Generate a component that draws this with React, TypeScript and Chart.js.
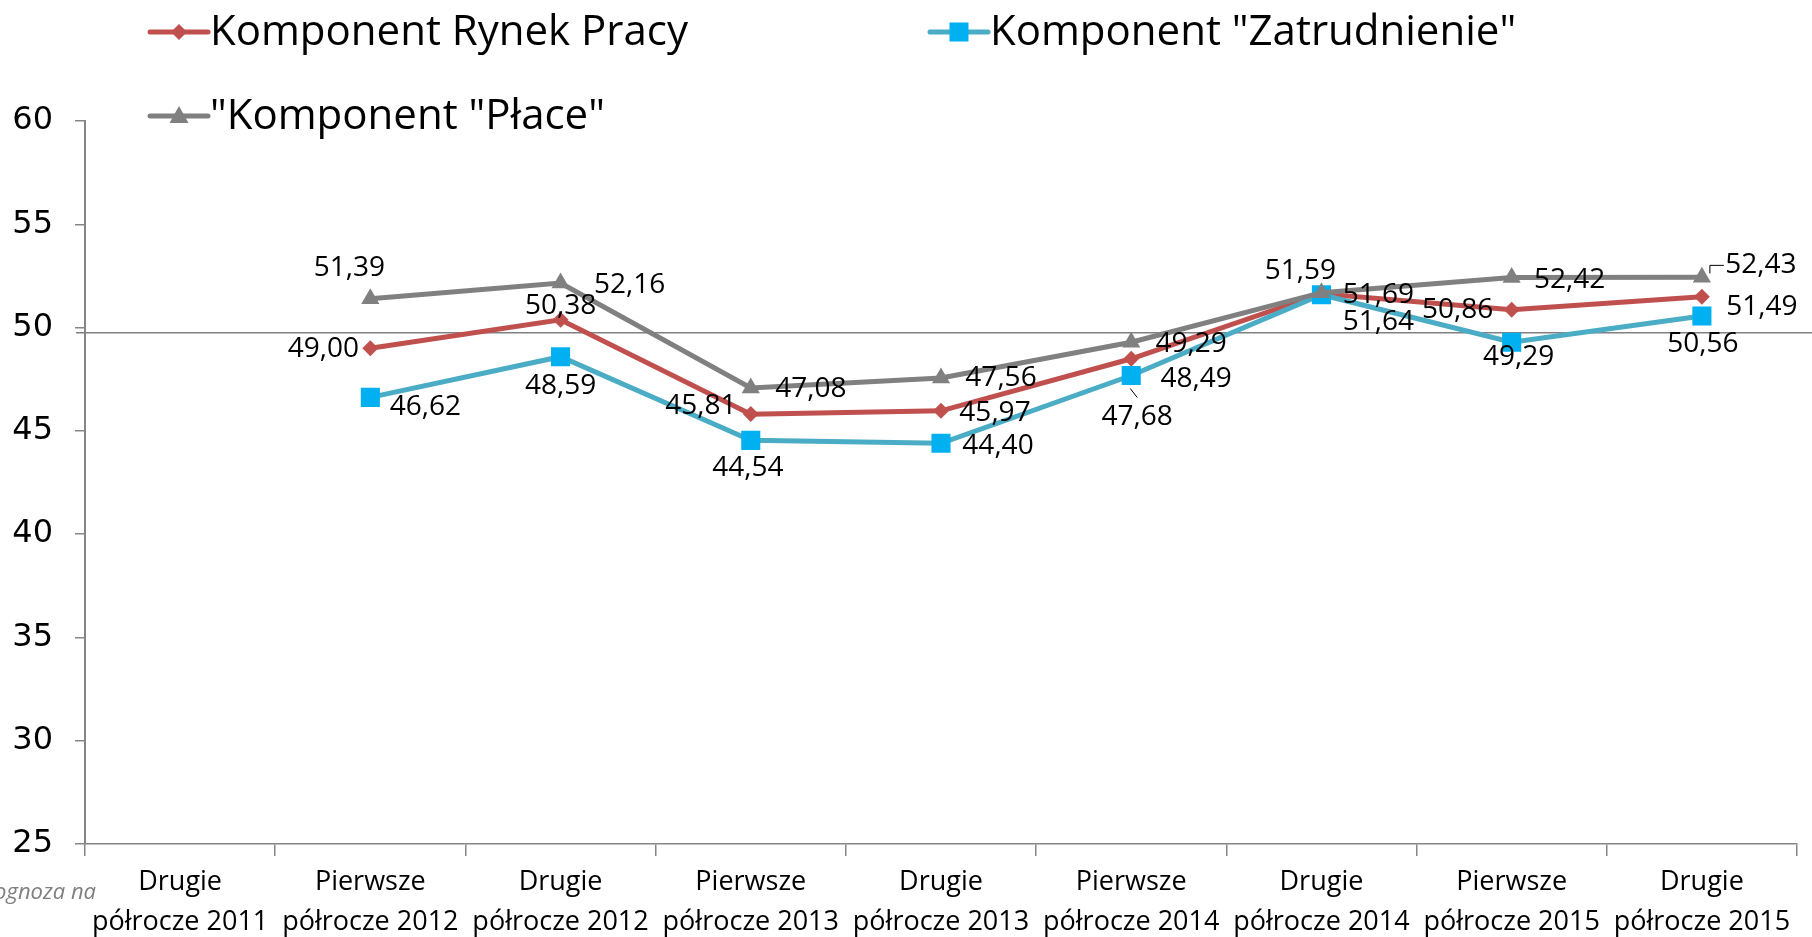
import React, { useEffect, useRef } from "react";
import { Chart, registerables } from "chart.js";

Chart.register(...registerables);

const CATEGORIES: string[][] = [
  ["Drugie", "półrocze 2011"],
  ["Pierwsze", "półrocze 2012"],
  ["Drugie", "półrocze 2012"],
  ["Pierwsze", "półrocze 2013"],
  ["Drugie", "półrocze 2013"],
  ["Pierwsze", "półrocze 2014"],
  ["Drugie", "półrocze 2014"],
  ["Pierwsze", "półrocze 2015"],
  ["Drugie", "półrocze 2015"],
];

const RYNEK_PRACY: (number | null)[] = [null, 49.0, 50.38, 45.81, 45.97, 48.49, 51.64, 50.86, 51.49];
const ZATRUDNIENIE: (number | null)[] = [null, 46.62, 48.59, 44.54, 44.4, 47.68, 51.59, 49.29, 50.56];
const PLACE: (number | null)[] = [null, 51.39, 52.16, 47.08, 47.56, 49.29, 51.69, 52.42, 52.43];

const SERIES_NAMES = ["Komponent Rynek Pracy", 'Komponent "Zatrudnienie"', '"Komponent "Płace"'];
const Y_MIN = 25;
const Y_MAX = 60;
const Y_STEP = 5;
const REFERENCE_LINE = 49.75;
const FOOTNOTE = "Prognoza na";

// label offsets (style only): [dx, dy] in px relative to the point
const LABEL_OFFSETS: number[][][] = [
  // red
  [[0, 0], [-47, 1], [0, -14], [-50, -8], [54, 2], [65, 20], [57, 28], [-54, 0], [60, 10]],
  // blue
  [[0, 0], [55, 10], [0, 29], [-3, 28], [57, 3], [6, 42], [-21, -24], [7, 15], [1, 28]],
  // gray
  [[0, 0], [-21, -31], [69, 2], [60, 1], [60, 0], [60, 2], [57, 2], [58, 2], [59, -12]],
];

const RED = "#C0504D";
const BLUE_LINE = "#4BACC6";
const BLUE_MARK = "#00B0F0";
const GRAY = "#808080";
const AXIS = "#868686";

const fmt = (v: number) => v.toFixed(2).replace(".", ",");

function drawMarker(ctx: CanvasRenderingContext2D, kind: string, x: number, y: number, color: string) {
  ctx.save();
  ctx.fillStyle = color;
  ctx.beginPath();
  if (kind === "diamond") {
    const r = 8;
    ctx.moveTo(x, y - r);
    ctx.lineTo(x + r, y);
    ctx.lineTo(x, y + r);
    ctx.lineTo(x - r, y);
  } else if (kind === "square") {
    const s = 9.5;
    ctx.rect(x - s, y - s, 2 * s, 2 * s);
  } else {
    const r = 10;
    ctx.moveTo(x, y - r);
    ctx.lineTo(x + r * 0.95, y + r * 0.7);
    ctx.lineTo(x - r * 0.95, y + r * 0.7);
  }
  ctx.closePath();
  ctx.fill();
  ctx.restore();
}

const overlayPlugin = {
  id: "overlay",
  beforeDatasetsDraw(chart: any) {
    const ctx: CanvasRenderingContext2D = chart.ctx;
    const y = chart.scales.y.getPixelForValue(REFERENCE_LINE);
    ctx.save();
    ctx.strokeStyle = GRAY;
    ctx.lineWidth = 1.5;
    ctx.beginPath();
    ctx.moveTo(chart.chartArea.left - 9, y);
    ctx.lineTo(chart.width, y);
    ctx.stroke();
    ctx.restore();
  },
  afterDatasetsDraw(chart: any) {
    const ctx: CanvasRenderingContext2D = chart.ctx;
    ctx.save();
    // data labels
    ctx.font = '28px "Open Sans"';
    ctx.fillStyle = "#000";
    ctx.textAlign = "center";
    ctx.textBaseline = "middle";
    chart.data.datasets.forEach((ds: any, di: number) => {
      const meta = chart.getDatasetMeta(di);
      meta.data.forEach((pt: any, i: number) => {
        const v = ds.data[i];
        if (v === null || v === undefined) return;
        const [dx, dy] = LABEL_OFFSETS[di][i];
        ctx.fillText(fmt(v), pt.x + dx, pt.y + dy);
      });
    });
    // leader lines
    ctx.strokeStyle = "#000";
    ctx.lineWidth = 1;
    const gMeta = chart.getDatasetMeta(2);
    const gp = gMeta.data[8];
    if (gp) {
      ctx.beginPath();
      ctx.moveTo(gp.x + 22, gp.y - 12);
      ctx.lineTo(gp.x + 8, gp.y - 12);
      ctx.lineTo(gp.x + 8, gp.y - 4);
      ctx.stroke();
    }
    const bMeta = chart.getDatasetMeta(1);
    const bp = bMeta.data[5];
    if (bp) {
      ctx.beginPath();
      ctx.moveTo(bp.x + 6, bp.y + 22);
      ctx.lineTo(bp.x - 1, bp.y + 13);
      ctx.stroke();
    }
    // legend
    const items = [
      { text: SERIES_NAMES[0], color: RED, kind: "diamond", x: 150, y: 32 },
      { text: SERIES_NAMES[1], color: BLUE_LINE, mark: BLUE_MARK, kind: "square", x: 930, y: 32 },
      { text: SERIES_NAMES[2], color: GRAY, kind: "triangle", x: 150, y: 116 },
    ];
    ctx.font = '42px "Open Sans"';
    ctx.textAlign = "left";
    ctx.textBaseline = "middle";
    items.forEach((it: any) => {
      ctx.strokeStyle = it.color;
      ctx.lineWidth = 5;
      ctx.lineCap = "round";
      ctx.beginPath();
      ctx.moveTo(it.x, it.y);
      ctx.lineTo(it.x + 58, it.y);
      ctx.stroke();
      drawMarker(ctx, it.kind, it.x + 29, it.y, it.mark || it.color);
      ctx.fillStyle = "#000";
      ctx.fillText(it.text, it.x + 60, it.y + 1);
    });
    // footnote
    ctx.font = 'italic 22px "Open Sans"';
    ctx.fillStyle = "#7F7F7F";
    ctx.textAlign = "right";
    ctx.fillText(FOOTNOTE, 96, 893);
    ctx.restore();
  },
};

export default function App() {
  const ref = useRef<HTMLCanvasElement | null>(null);
  useEffect(() => {
    if (!ref.current) return;
    const chart = new Chart(ref.current, {
      type: "line",
      data: {
        labels: CATEGORIES,
        datasets: [
          {
            label: SERIES_NAMES[0],
            data: RYNEK_PRACY,
            borderColor: RED,
            backgroundColor: RED,
            borderWidth: 5,
            pointStyle: "rectRot",
            pointRadius: 8,
            pointBorderWidth: 0,
            pointBackgroundColor: RED,
            tension: 0,
            order: 3,
          },
          {
            label: SERIES_NAMES[1],
            data: ZATRUDNIENIE,
            borderColor: BLUE_LINE,
            backgroundColor: BLUE_MARK,
            borderWidth: 5,
            pointStyle: "rect",
            pointRadius: 13.5,
            pointBorderWidth: 0,
            pointBackgroundColor: BLUE_MARK,
            tension: 0,
            order: 2,
          },
          {
            label: SERIES_NAMES[2],
            data: PLACE,
            borderColor: GRAY,
            backgroundColor: GRAY,
            borderWidth: 5,
            pointStyle: "triangle",
            pointRadius: 10.5,
            pointBorderWidth: 0,
            pointBackgroundColor: GRAY,
            tension: 0,
            order: 1,
          },
        ],
      },
      options: {
        responsive: true,
        maintainAspectRatio: false,
        animation: false,
        layout: { padding: { top: 121, right: 15, left: 0, bottom: 0 } },
        plugins: {
          legend: { display: false },
          tooltip: { enabled: false },
        },
        scales: {
          x: {
            offset: true,
            grid: {
              display: true,
              offset: true,
              drawOnChartArea: false,
              drawTicks: true,
              tickLength: 12,
              color: AXIS,
              lineWidth: 1.5,
            },
            border: { color: AXIS, width: 1.5 },
            ticks: {
              autoSkip: false,
              maxRotation: 0,
              minRotation: 0,
              color: "#000",
              padding: 6,
              font: { family: "Open Sans", size: 27, lineHeight: 1.5 },
            },
            afterFit: (s: any) => {
              s.height = 93;
            },
          },
          y: {
            min: Y_MIN,
            max: Y_MAX,
            ticks: {
              stepSize: Y_STEP,
              color: "#000",
              padding: 22,
              font: { family: "DejaVu Sans", size: 32 },
            },
            grid: {
              display: true,
              drawOnChartArea: false,
              drawTicks: true,
              tickLength: 10,
              color: AXIS,
              lineWidth: 1.5,
            },
            border: { color: AXIS, width: 2 },
            afterFit: (s: any) => {
              s.width = 85;
            },
          },
        },
      },
      plugins: [overlayPlugin],
    });
    return () => chart.destroy();
  }, []);
  return (
    <div style={{ position: "fixed", left: 0, top: 0, width: "1812px", height: "937px", background: "#fff" }}>
      <canvas ref={ref} />
    </div>
  );
}
